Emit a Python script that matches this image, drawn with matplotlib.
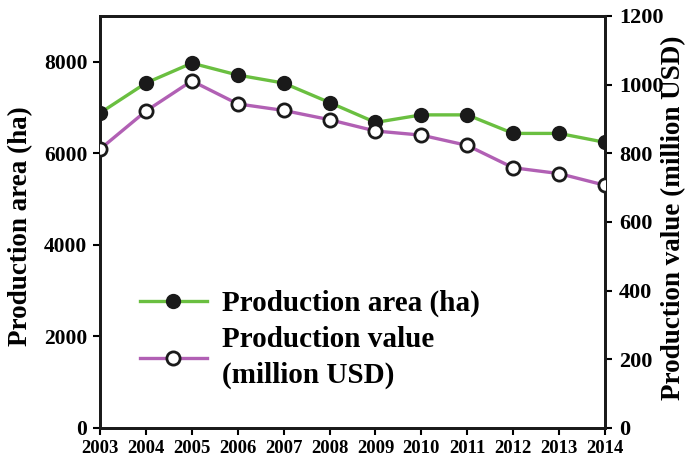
import matplotlib
matplotlib.use('Agg')
import matplotlib.pyplot as plt

plt.rcParams['font.family'] = ['Liberation Serif', 'DejaVu Serif']
plt.rcParams['font.weight'] = 'bold'

# data
years = [2003, 2004, 2005, 2006, 2007, 2008, 2009, 2010, 2011, 2012, 2013, 2014]
area_ha = [6880, 7535, 7970, 7710, 7535, 7110, 6675, 6840, 6840, 6435, 6435, 6240]
value_musd = [812, 923, 1011, 944, 925, 898, 865, 853, 823, 758, 741, 707]

green = '#6abf40'
purple = '#b160b4'

fig = plt.figure(figsize=(6.88, 4.65), dpi=100)
ax = fig.add_axes([0.1453, 0.0796, 0.7341, 0.886])
ax2 = ax.twinx()

l1, = ax.plot(years, area_ha, color=green, lw=2.4, marker='o', ms=9.5,
              mfc='#1a1a1a', mec='#1a1a1a', mew=1.5, label='Production area (ha)', zorder=3)
l2, = ax2.plot(years, value_musd, color=purple, lw=2.4, marker='o', ms=9.5,
               mfc='white', mec='#1a1a1a', mew=2, label='Production value\n(million USD)', zorder=3)

ax.set_xlim(2003, 2014)
ax.set_ylim(0, 9000)
ax2.set_ylim(0, 1200)
ax.set_xticks(years)
ax.set_yticks([0, 2000, 4000, 6000, 8000])
ax2.set_yticks([0, 200, 400, 600, 800, 1000, 1200])

ax.set_ylabel('Production area (ha)', fontsize=19.5, fontweight='bold')
ax2.set_ylabel('Production value (million USD)', fontsize=19.5, fontweight='bold')
ax.yaxis.set_label_coords(-0.133, 0.49)
ax2.yaxis.set_label_coords(1.112, 0.51)

ax.tick_params(axis='x', labelsize=13.5, direction='out', length=5, width=1.5, pad=4)
ax.tick_params(axis='y', labelsize=15.5, direction='out', length=5, width=1.5, pad=4)
ax2.tick_params(axis='y', labelsize=16, direction='out', length=5, width=1.5, pad=5)

for a in (ax, ax2):
    for s in a.spines.values():
        s.set_linewidth(2)
        s.set_color('#1a1a1a')

leg = ax.legend(handles=[l1, l2], loc='upper left', bbox_to_anchor=(0.079, 0.335),
                frameon=False, fontsize=21, handlelength=2.3, handletextpad=0.5,
                labelspacing=0.3, borderpad=0, borderaxespad=0)
for t in leg.get_texts():
    t.set_linespacing(1.4)

fig.savefig('out.png', dpi=100)
